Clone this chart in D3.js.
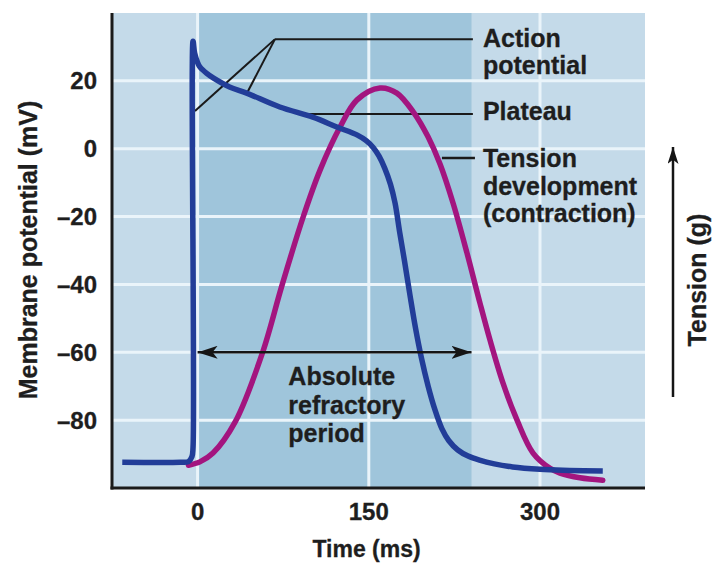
<!DOCTYPE html>
<html>
<head>
<meta charset="utf-8">
<script src="https://cdn.jsdelivr.net/npm/d3@7"></script>
<style>
  html, body { margin: 0; padding: 0; background: #ffffff; }
  svg { display: block; }
  text { font-family: "Liberation Sans", Arial, Helvetica, sans-serif; font-weight: bold; fill: #1e1e1e; stroke: #1e1e1e; stroke-width: 0.3px; }
</style>
</head>
<body>
<svg id="chart" width="713" height="571"></svg>
<script>
// ---------- data ----------
const xTicks = [0, 150, 300];
const yTicks = [20, 0, -20, -40, -60, -80];

// membrane potential (action potential), time in ms, potential in mV
const apTime = [-66, -15, -8, -5, -4, -4, -2.6, 0, 2, 8, 14, 28, 43, 72, 101, 122, 140, 148, 154, 159, 164, 169, 173, 177, 181, 186, 191, 196, 202, 208, 214, 220, 228, 237, 247, 260, 276, 300, 320, 355];
const apVolt = [-92.4, -92.4, -92.2, -90.8, -88, 31.7, 28.2, 25.4, 24.1, 22.2, 20.8, 18.2, 16.4, 12.3, 9.3, 6.4, 4.0, 2.3, 0.3, -2.2, -5.8, -10.5, -16, -24.5, -32.5, -43, -53, -61.5, -70, -77, -82.5, -86, -88.8, -90.6, -91.8, -92.9, -93.8, -94.5, -94.8, -95.0];

// tension development (contraction), drawn on the same axis frame
const tenTime = [-8, 2, 13.5, 32.8, 56.5, 74, 92.4, 107.3, 124.8, 139.7, 159.8, 174.6, 189.7, 201.9, 212.4, 223.8, 236, 247.4, 256.2, 267.6, 279.9, 293.9, 308.8, 317.5, 335, 355];
const tenVal  = [-93.3, -92.3, -89.7, -80.6, -60.5, -40.2, -20.2, -6.3, 6.4, 14.4, 17.9, 16.4, 10.5, 3.5, -4.5, -16.0, -30.7, -45.5, -56.4, -69.1, -80.0, -89.7, -94.2, -95.6, -97.0, -97.7];

// absolute refractory period (ms)
const refractory = [0, 240];

// annotation texts
const labelAP = ["Action", "potential"];
const labelPlateau = ["Plateau"];
const labelTension = ["Tension", "development", "(contraction)"];
const labelRefractory = ["Absolute", "refractory", "period"];

// annotation anchor points (time ms, mV)
const apLeaderApex = [67.8, 32.3];
const apLeaderEnds = [[-2.3, 11.1], [43.3, 16.4]];
const plateauLeader = [[92.4, 10.2], [241.2, 10.2]];
const tensionLeader = [[214.1, -2.7], [243, -2.7]];
const labelTimeAt = 250;

// ---------- layout ----------
const svg = d3.select("#chart");
const pLeft = 112, pRight = 645, pTop = 13, pBottom = 488;

const x = d3.scaleLinear().domain([-75, 392]).range([pLeft, pRight]);
const y = d3.scaleLinear().domain([-100, 40]).range([pBottom, pTop]);

const defs = svg.append("defs");
function marker(id, len, wid, orient) {
  defs.append("marker")
    .attr("id", id)
    .attr("viewBox", `0 0 ${len} ${wid}`)
    .attr("refX", len).attr("refY", wid / 2)
    .attr("markerUnits", "userSpaceOnUse")
    .attr("markerWidth", len).attr("markerHeight", wid)
    .attr("orient", orient)
    .append("path")
    .attr("d", `M0,0 L${len},${wid / 2} L0,${wid} L${len * 0.25},${wid / 2} Z`)
    .attr("fill", "#151515");
}
marker("arrowR", 20, 13, "auto");
marker("arrowL", 20, 13, "auto-start-reverse");
marker("arrowUp", 17, 11, "auto");

// background panels
svg.append("rect")
  .attr("x", pLeft).attr("y", pTop)
  .attr("width", pRight - pLeft).attr("height", pBottom - pTop)
  .attr("fill", "#c4dae9");
svg.append("rect")
  .attr("x", x(refractory[0])).attr("y", pTop)
  .attr("width", x(refractory[1]) - x(refractory[0])).attr("height", pBottom - pTop)
  .attr("fill", "#9fc5db");

// grid
svg.append("g").selectAll("line").data(yTicks).join("line")
  .attr("x1", pLeft).attr("x2", pRight)
  .attr("y1", d => y(d)).attr("y2", d => y(d))
  .attr("stroke", "#eaf4fa").attr("stroke-width", 3);
svg.append("g").selectAll("line").data(xTicks).join("line")
  .attr("x1", d => x(d)).attr("x2", d => x(d))
  .attr("y1", pTop).attr("y2", pBottom)
  .attr("stroke", "#eaf4fa").attr("stroke-width", 3);

// axes lines
svg.append("line").attr("x1", pLeft).attr("x2", pLeft).attr("y1", pTop).attr("y2", pBottom + 1.5)
  .attr("stroke", "#1a1a1a").attr("stroke-width", 3);
svg.append("line").attr("x1", pLeft - 1.5).attr("x2", pRight).attr("y1", pBottom).attr("y2", pBottom)
  .attr("stroke", "#1a1a1a").attr("stroke-width", 3);

// tick labels
svg.append("g").selectAll("text").data(yTicks).join("text")
  .attr("x", 97).attr("y", d => y(d) + 8.5)
  .attr("text-anchor", "end").attr("font-size", 24)
  .text(d => d < 0 ? "\u2013" + Math.abs(d) : d);
svg.append("g").selectAll("text").data(xTicks).join("text")
  .attr("x", d => x(d)).attr("y", 520)
  .attr("text-anchor", "middle").attr("font-size", 24)
  .text(d => d);

// axis titles
svg.append("text").attr("x", x(148)).attr("y", 557)
  .attr("text-anchor", "middle").attr("font-size", 23).text("Time (ms)");
svg.append("text").attr("transform", "translate(37,250) rotate(-90)")
  .attr("text-anchor", "middle").attr("font-size", 25).text("Membrane potential (mV)");
svg.append("text").attr("transform", "translate(706,280) rotate(-90)")
  .attr("text-anchor", "middle").attr("font-size", 25).text("Tension (g)");

// tension arrow
svg.append("line").attr("x1", 673).attr("x2", 673).attr("y1", 397).attr("y2", 147)
  .attr("stroke", "#151515").attr("stroke-width", 2.5).attr("marker-end", "url(#arrowUp)");

// curves
const line = d3.line().x(d => x(d[0])).y(d => y(d[1])).curve(d3.curveCatmullRom.alpha(0.5));
const apData = apTime.map((t, i) => [t, apVolt[i]]);
const tenData = tenTime.map((t, i) => [t, tenVal[i]]);

// leader lines
const lg = svg.append("g").attr("stroke", "#1a1a1a").attr("stroke-width", 2).attr("fill", "none");
lg.append("line").attr("x1", x(apLeaderApex[0])).attr("y1", y(apLeaderApex[1]))
  .attr("x2", x(241.2)).attr("y2", y(apLeaderApex[1]));
apLeaderEnds.forEach(e => {
  lg.append("line").attr("x1", x(apLeaderApex[0])).attr("y1", y(apLeaderApex[1]))
    .attr("x2", x(e[0])).attr("y2", y(e[1]));
});
lg.append("line").attr("x1", x(plateauLeader[0][0])).attr("y1", y(plateauLeader[0][1]))
  .attr("x2", x(plateauLeader[1][0])).attr("y2", y(plateauLeader[1][1]));
lg.append("line").attr("x1", x(tensionLeader[0][0])).attr("y1", y(tensionLeader[0][1]))
  .attr("x2", x(tensionLeader[1][0])).attr("y2", y(tensionLeader[1][1])).attr("stroke-width", 2.5);

svg.append("path").datum(tenData).attr("d", line)
  .attr("fill", "none").attr("stroke", "#a3157f").attr("stroke-width", 5.5)
  .attr("stroke-linecap", "round");
svg.append("path").datum(apData).attr("d", line)
  .attr("fill", "none").attr("stroke", "#223d98").attr("stroke-width", 5.5)
  .attr("stroke-linejoin", "round").attr("stroke-linecap", "butt");

// refractory arrow
svg.append("line").attr("x1", x(refractory[0])).attr("x2", x(refractory[1]))
  .attr("y1", y(-60)).attr("y2", y(-60))
  .attr("stroke", "#151515").attr("stroke-width", 2.5)
  .attr("marker-start", "url(#arrowL)").attr("marker-end", "url(#arrowR)");

// labels
function block(lines, xx, y0, dy) {
  svg.append("g").selectAll("text").data(lines).join("text")
    .attr("x", xx).attr("y", (d, i) => y0 + i * dy)
    .attr("font-size", 25).text(d => d);
}
block(labelAP, x(labelTimeAt), 47, 26.5);
block(labelPlateau, x(labelTimeAt), 120, 27);
block(labelTension, x(labelTimeAt), 167, 27.5);
block(labelRefractory, x(79.5), 385, 28.5);
</script>
</body>
</html>
